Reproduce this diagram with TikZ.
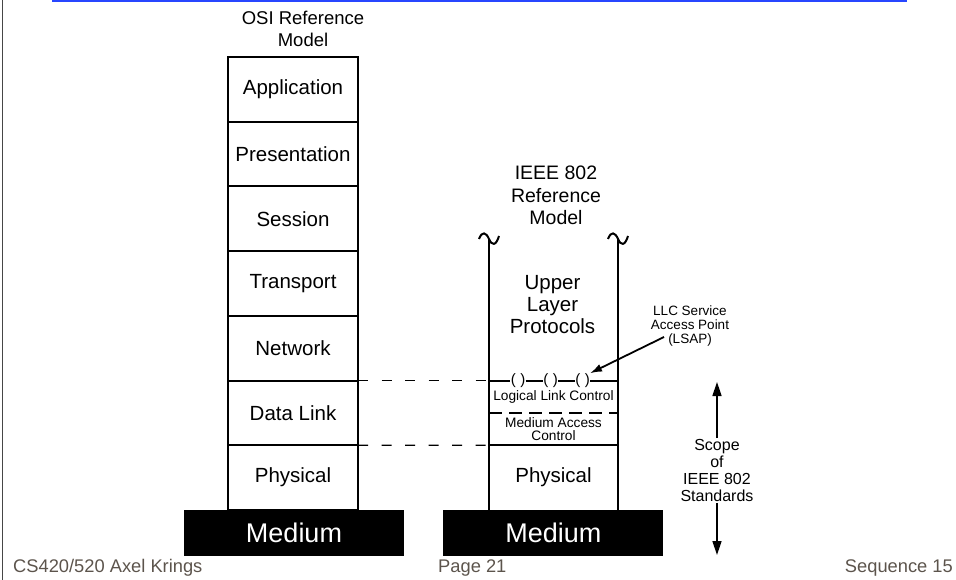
\documentclass[tikz,border=0pt]{standalone}
\usepackage{fontspec}
\setmainfont{Liberation Sans}
\usetikzlibrary{arrows.meta}
\definecolor{slideblue}{RGB}{40,70,255}
\definecolor{footgray}{RGB}{92,84,76}
\definecolor{edgegray}{RGB}{70,70,70}
\begin{document}
\begin{tikzpicture}[x=1pt,y=-1pt,
  osilayer/.style={draw, line width=2pt, minimum width=130pt, minimum height=64.7pt,
    inner sep=0pt, outer sep=0pt, font=\fontsize{20.5}{24}\selectfont},
  mediumbox/.style={fill=black, text=white, minimum width=220pt, minimum height=46pt,
    inner sep=0pt, outer sep=0pt, font=\fontsize{27}{30}\selectfont},
  rlayer/.style={minimum width=129pt, inner sep=0pt, outer sep=0pt, align=center},
  heading/.style={align=center, inner sep=0pt},
  stackline/.style={line width=2pt},
  osidash/.style={line width=1.4pt, dash pattern=on 10pt off 13.5pt},
  macdash/.style={line width=2pt, dash pattern=on 13pt off 7pt},
  sap/.style={inner sep=0.3pt, outer sep=0pt, font=\fontsize{15}{15}\selectfont},
  footer/.style={text=footgray, font=\fontsize{18.3}{20}\selectfont, inner sep=0pt},
  scopearrow/.style={line width=1.5pt, -{Triangle[length=14pt,width=9pt]}},
]
\useasboundingbox (0,0) rectangle (956,580);

% slide frame: blue rule on top, thin edge on the left
\draw[slideblue, line width=2.4pt] (52,1.2) -- (907,1.2);
\draw[edgegray, line width=1.5pt] (2.5,0) -- (2.5,580);

% ---------------- OSI reference model ----------------
\node[heading, font=\fontsize{18.5}{21.5}\selectfont] (osititle) at (303,29) {OSI Reference\\Model};
\node[osilayer] (app)   at (293, 89.35) {Application};
\node[osilayer] (pres)  at (293,154.05) {Presentation};
\node[osilayer] (sess)  at (293,218.75) {Session};
\node[osilayer] (trans) at (293,283.45) {Transport};
\node[osilayer] (net)   at (293,348.15) {Network};
\node[osilayer] (dl)    at (293,412.85) {Data Link};
\node[osilayer] (phys)  at (293,477.55) {Physical};
\node[mediumbox] (med1) at (294,533) {Medium};

% ---------------- IEEE 802 reference model ----------------
\node[heading, font=\fontsize{19.5}{22.5}\selectfont] (ieeetitle) at (556,195.5) {IEEE 802\\Reference\\Model};
\node[heading, font=\fontsize{20.5}{22}\selectfont] (ulp) at (552.5,305) {Upper\\Layer\\Protocols};
\node[rlayer, minimum height=32.5pt, font=\fontsize{13.7}{14}\selectfont] (llc) at (553.5,396.75) {Logical Link Control};
\node[rlayer, minimum height=32.2pt, font=\fontsize{13.7}{13.5}\selectfont] (mac) at (553.5,429.1) {Medium Access\\Control};
\node[rlayer, minimum height=64.8pt, font=\fontsize{20.5}{24}\selectfont] (phy2) at (553.5,477.6) {Physical};
\node[mediumbox] (med2) at (553.3,533) {Medium};

% open-ended side walls with break marks
\coordinate (lwall) at (489,239);
\coordinate (rwall) at (618,239);
\draw[stackline] (479,239) .. controls (482,231) and (486,232) .. (lwall)
                 .. controls (492,246) and (496,246) .. (499,236);
\draw[stackline] (608,239) .. controls (611,231) and (615,232) .. (rwall)
                 .. controls (621,246) and (625,246) .. (628,236);
\draw[stackline] (lwall) -- (med2.north -| lwall);
\draw[stackline] (rwall) -- (med2.north -| rwall);

% service access points on the LLC boundary
\node[sap] (sap1) at (518,380.5) {(\hspace{4.5pt})};
\node[sap] (sap2) at (550.5,380.5) {(\hspace{4.5pt})};
\node[sap] (sap3) at (582.5,380.5) {(\hspace{4.5pt})};
\draw[stackline] (llc.north west) -- (sap1.west);
\draw[stackline] (sap1.east) -- (sap2.west);
\draw[stackline] (sap2.east) -- (sap3.west);
\draw[stackline] (sap3.east) -- (llc.north east);

% LLC / MAC / physical boundaries
\draw[macdash] (mac.north west) -- (mac.north east);
\draw[stackline] (phy2.north west) -- (phy2.north east);

% correspondence between the two models
\draw[osidash] (dl.north east) -- (llc.north west);
\draw[osidash] (dl.south east) -- (phy2.north west);

% LSAP label
\node[heading, font=\fontsize{13.5}{14}\selectfont] (lsap) at (690,326) {LLC Service\\Access Point\\(LSAP)};
\coordinate (lsapfoot) at (664,337);
\draw[line width=1.8pt, -{Latex[length=12pt,width=8pt]}] (lsapfoot) -- (sap3.north east);

% scope of IEEE 802
\node[heading, font=\fontsize{16}{17}\selectfont, inner ysep=1pt] (scope) at (717,470.5) {Scope\\of\\IEEE 802\\Standards};
\coordinate (scopetop) at (717,382);
\coordinate (scopebot) at (717,555);
\draw[scopearrow] (scope.north) -- (scopetop);
\draw[scopearrow] (scope.south) -- (scopebot);

% footer
\node[footer, anchor=west] (foot1) at (13,568) {CS420/520 Axel Krings};
\node[footer, anchor=west] (foot2) at (438,568) {Page 21};
\node[footer, anchor=east] (foot3) at (953,568) {Sequence 15};
\end{tikzpicture}
\end{document}
